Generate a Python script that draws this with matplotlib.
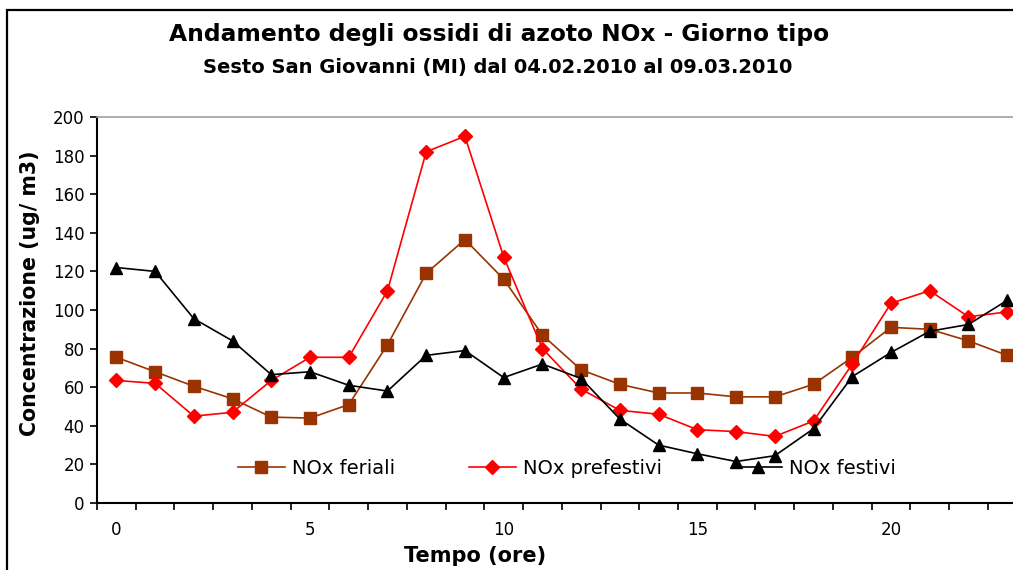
import matplotlib
matplotlib.use("Agg")
import matplotlib.pyplot as plt
from matplotlib.patches import Rectangle
from matplotlib.ticker import FixedLocator, NullFormatter

hours = list(range(24))
feriali = [75.5, 68, 60.5, 54, 44.5, 44, 51, 82, 119, 136.5, 116, 87,
           69, 61.5, 57, 57, 55, 55, 61.5, 75.5, 91, 90, 84, 76.5]
prefestivi = [63.5, 62, 45, 47, 63.5, 75.5, 75.5, 110, 182, 190, 127.5, 80,
              59, 48, 46, 38, 37, 34.5, 42.5, 72, 103.5, 110, 96.5, 99]
festivi = [122, 120, 95.5, 84, 66.5, 68, 61, 58, 76.5, 79, 65, 72,
           64.5, 43.5, 30, 25.5, 21.5, 24.5, 38.5, 65.5, 78, 89, 92.5, 105]
series_labels = ["NOx feriali", "NOx prefestivi", "NOx festivi"]
title = "Andamento degli ossidi di azoto NOx - Giorno tipo"
subtitle = "Sesto San Giovanni (MI) dal 04.02.2010 al 09.03.2010"
ylabel = "Concentrazione (ug/ m3)"
xlabel = "Tempo (ore)"

W, H = 1013, 570
fig = plt.figure(figsize=(W / 100, H / 100), dpi=100)
plt.rcParams['font.family'] = ['DejaVu Sans']

# outer chart border
fig.patches.append(Rectangle((7 / W, -0.1), 1.2, 1 - 10 / H + 0.1, transform=fig.transFigure,
                             fill=False, edgecolor='black', linewidth=1.6))

ax = fig.add_axes([97 / W, 1 - 503 / H, (W - 97) / W, (503 - 117) / H])
l1, = ax.plot(hours, feriali, color='#993300', marker='s', markersize=8, linewidth=1.2,
              markeredgecolor='#993300', label=series_labels[0])
l2, = ax.plot(hours, prefestivi, color='#FF0000', marker='D', markersize=7.5, linewidth=1.2,
              markeredgecolor='#FF0000', label=series_labels[1])
l3, = ax.plot(hours, festivi, color='black', marker='^', markersize=9, linewidth=1.2,
              label=series_labels[2])

ax.set_xlim(-0.5, 23.15)
ax.set_ylim(0, 200)
ax.set_yticks(range(0, 201, 20))
ax.xaxis.set_major_locator(FixedLocator([0, 5, 10, 15, 20]))
ax.xaxis.set_minor_locator(FixedLocator([h + 0.5 for h in range(-1, 24)]))
ax.xaxis.set_minor_formatter(NullFormatter())
ax.tick_params(axis='x', which='major', length=0, labelsize=12, pad=13)
ax.tick_params(axis='x', which='minor', length=5, width=1.2, direction='out')
ax.tick_params(axis='y', length=5, width=1.2, direction='out', labelsize=12, pad=4)
for s in ['left', 'bottom']:
    ax.spines[s].set_linewidth(1.5)
    ax.spines[s].set_color('black')
ax.spines['top'].set_color('#a0a0a0')
ax.spines['top'].set_linewidth(1.2)
ax.spines['right'].set_visible(False)

fig.text(499 / W, 1 - 35 / H, title, ha='center', va='center', fontsize=16.8, fontweight='bold')
fig.text(498 / W, 1 - 67 / H, subtitle, ha='center', va='center', fontsize=14, fontweight='bold')
fig.text(30 / W, 1 - 293 / H, ylabel, ha='center', va='center', rotation=90,
         fontsize=14.8, fontweight='bold')
fig.text(475 / W, 1 - 556 / H, xlabel, ha='center', va='center', fontsize=15, fontweight='bold')

starts = [238, 469, 735]
for line, lab, x0 in zip([l1, l2, l3], series_labels, starts):
    fig.legend([line], [lab], loc='center left', bbox_to_anchor=(x0 / W, 1 - 468 / H),
               bbox_transform=fig.transFigure, frameon=False, fontsize=14,
               handlelength=2.4, handletextpad=0.4, borderaxespad=0, borderpad=0)

fig.savefig("out.png", dpi=100)
